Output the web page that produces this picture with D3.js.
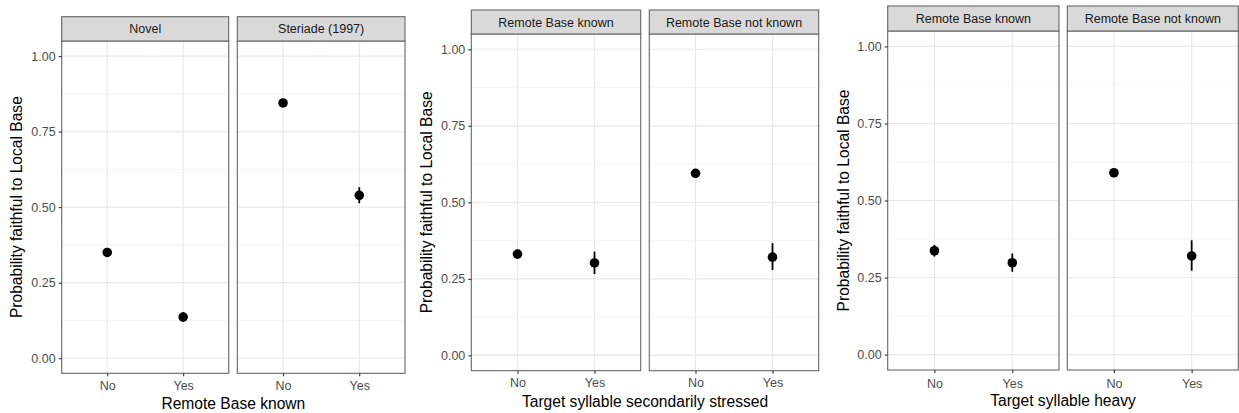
<!DOCTYPE html>
<html><head><meta charset="utf-8">
<script src="https://cdn.jsdelivr.net/npm/d3@7"></script>
<style>body{margin:0;background:#fff}svg{display:block}text{font-family:"Liberation Sans",Arial,sans-serif}</style>
</head><body>
<script>
const xCategories = ["No", "Yes"];
const yTicks = [0, 0.25, 0.5, 0.75, 1];
const yMinor = [0.125, 0.375, 0.625, 0.875];
const yLabel = "Probability faithful to Local Base";

const panel1Facets = ["Novel", "Steriade (1997)"];
const panel1Mean = [[0.350, 0.136], [0.845, 0.539]];
const panel1Lo = [[0.338, 0.124], [0.835, 0.513]];
const panel1Hi = [[0.362, 0.152], [0.857, 0.566]];
const panel1XTitle = "Remote Base known";

const panel2Facets = ["Remote Base known", "Remote Base not known"];
const panel2Mean = [[0.331, 0.302], [0.595, 0.321]];
const panel2Lo = [[0.318, 0.266], [0.585, 0.279]];
const panel2Hi = [[0.345, 0.339], [0.605, 0.367]];
const panel2XTitle = "Target syllable secondarily stressed";

const panel3Facets = ["Remote Base known", "Remote Base not known"];
const panel3Mean = [[0.337, 0.298], [0.590, 0.320]];
const panel3Lo = [[0.318, 0.269], [0.580, 0.272]];
const panel3Hi = [[0.356, 0.328], [0.600, 0.371]];
const panel3XTitle = "Target syllable heavy";

const W = 1239, H = 413;
const svg = d3.select("body").append("svg").attr("width", W).attr("height", H);

const layouts = [
  {facets: panel1Facets, mean: panel1Mean, lo: panel1Lo, hi: panel1Hi, xTitle: panel1XTitle,
   fx: [[61.7, 228.7], [237.3, 405]], stripTop: 16.7, top: 41, bottom: 373.3, yTitleX: 17, tickY: 390, titleY: 408.5},
  {facets: panel2Facets, mean: panel2Mean, lo: panel2Lo, hi: panel2Hi, xTitle: panel2XTitle,
   fx: [[471.3, 640.7], [649.3, 818.7]], stripTop: 10, top: 34, bottom: 370.7, yTitleX: 427, tickY: 387.5, titleY: 406.5},
  {facets: panel3Facets, mean: panel3Mean, lo: panel3Lo, hi: panel3Hi, xTitle: panel3XTitle,
   fx: [[887.7, 1059], [1067.3, 1238.3]], stripTop: 6, top: 31, bottom: 370, yTitleX: 843.5, tickY: 387.5, titleY: 405.5}
];

layouts.forEach(L => {
  const g = svg.append("g");
  const y = d3.scaleLinear().domain([-0.05, 1.05]).range([L.bottom, L.top]);

  L.facets.forEach((name, fi) => {
    const [x0, x1] = L.fx[fi];
    const x = d3.scalePoint().domain(xCategories).range([x0, x1]).padding(0.6);
    const fg = g.append("g");
    fg.append("rect").attr("x", x0).attr("y", L.top).attr("width", x1 - x0).attr("height", L.bottom - L.top).attr("fill", "#fff");
    fg.selectAll(".ymin").data(yMinor).join("line")
      .attr("x1", x0).attr("x2", x1).attr("y1", d => y(d)).attr("y2", d => y(d))
      .attr("stroke", "#f0f0f0").attr("stroke-width", 0.7);
    fg.selectAll(".ymaj").data(yTicks).join("line")
      .attr("x1", x0).attr("x2", x1).attr("y1", d => y(d)).attr("y2", d => y(d))
      .attr("stroke", "#e8e8e8").attr("stroke-width", 1.1);
    fg.selectAll(".xmaj").data(xCategories).join("line")
      .attr("x1", d => x(d)).attr("x2", d => x(d)).attr("y1", L.top).attr("y2", L.bottom)
      .attr("stroke", "#e8e8e8").attr("stroke-width", 1.1);
    const pts = xCategories.map((c, i) => ({c, m: L.mean[fi][i], lo: L.lo[fi][i], hi: L.hi[fi][i]}));
    fg.selectAll(".err").data(pts).join("line")
      .attr("x1", d => x(d.c)).attr("x2", d => x(d.c)).attr("y1", d => y(d.lo)).attr("y2", d => y(d.hi))
      .attr("stroke", "#000").attr("stroke-width", 1.8);
    fg.selectAll(".pt").data(pts).join("circle")
      .attr("cx", d => x(d.c)).attr("cy", d => y(d.m)).attr("r", 4.8).attr("fill", "#000");
    fg.append("rect").attr("x", x0).attr("y", L.top).attr("width", x1 - x0).attr("height", L.bottom - L.top)
      .attr("fill", "none").attr("stroke", "#666").attr("stroke-width", 1.1);
    fg.append("rect").attr("x", x0).attr("y", L.stripTop).attr("width", x1 - x0).attr("height", L.top - L.stripTop)
      .attr("fill", "#d9d9d9").attr("stroke", "#666").attr("stroke-width", 1.1);
    fg.append("text").attr("x", (x0 + x1) / 2).attr("y", (L.stripTop + L.top) / 2 + 4.5)
      .attr("text-anchor", "middle").attr("font-size", 12.5).attr("fill", "#1a1a1a").text(name);
    const xa = fg.append("g").attr("transform", `translate(0,${L.bottom})`)
      .call(d3.axisBottom(x).tickSize(3).tickPadding(4));
    xa.select(".domain").remove();
    xa.selectAll(".tick line").attr("stroke", "#333").attr("stroke-width", 1.1);
    xa.selectAll(".tick text").attr("font-size", 12.5).attr("fill", "#4d4d4d")
      .attr("font-family", "Liberation Sans, Arial, sans-serif")
      .attr("dy", null).attr("y", L.tickY - L.bottom);
  });

  const x0 = L.fx[0][0];
  const ya = g.append("g").attr("transform", `translate(${x0},0)`)
    .call(d3.axisLeft(y).tickValues(yTicks).tickFormat(d3.format(".2f")).tickSize(3).tickPadding(3));
  ya.select(".domain").remove();
  ya.selectAll(".tick line").attr("stroke", "#333").attr("stroke-width", 1.1);
  ya.selectAll(".tick text").attr("font-size", 12.5).attr("fill", "#4d4d4d")
    .attr("font-family", "Liberation Sans, Arial, sans-serif");

  g.append("text").attr("transform", `translate(${L.yTitleX},${(L.top + L.bottom) / 2}) rotate(-90)`)
    .attr("text-anchor", "middle").attr("dy", "0.35em").attr("font-size", 15.6).attr("fill", "#000").text(yLabel);
  g.append("text").attr("x", (L.fx[0][0] + L.fx[1][1]) / 2).attr("y", L.titleY)
    .attr("text-anchor", "middle").attr("font-size", 15.6).attr("fill", "#000").text(L.xTitle);
});
</script>
</body></html>
